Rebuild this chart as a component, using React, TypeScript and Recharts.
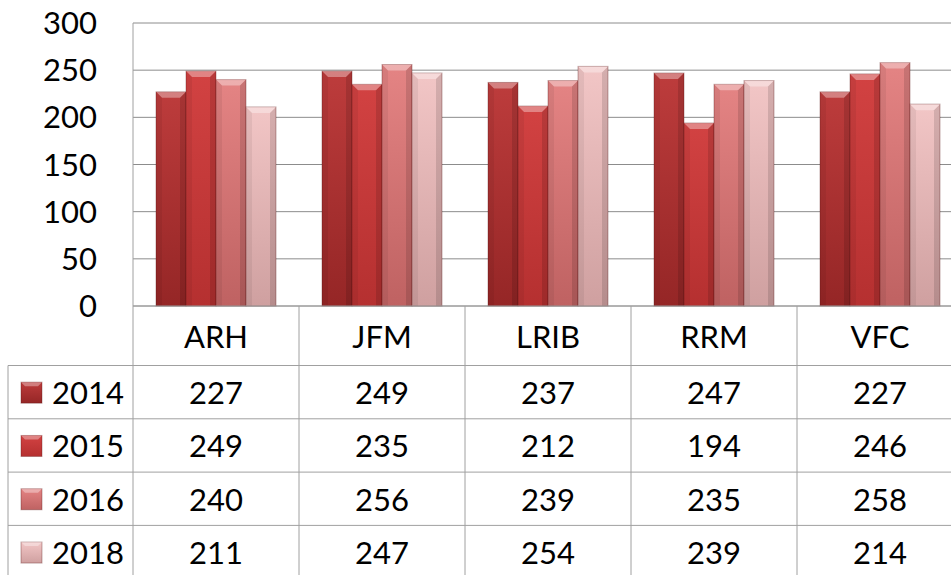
import { BarChart, Bar, XAxis, YAxis, CartesianGrid } from "recharts";

const categories = ["ARH", "JFM", "LRIB", "RRM", "VFC"];
const years = ["2014", "2015", "2016", "2018"];
const values2014 = [227, 249, 237, 247, 227];
const values2015 = [249, 235, 212, 194, 246];
const values2016 = [240, 256, 239, 235, 258];
const values2018 = [211, 247, 254, 239, 214];
const yTicks = [0, 50, 100, 150, 200, 250, 300];

const seriesValues = [values2014, values2015, values2016, values2018];
const data = categories.map((name, i) => ({
  name,
  y2014: values2014[i],
  y2015: values2015[i],
  y2016: values2016[i],
  y2018: values2018[i],
}));

// top / bottom shade of each year
const shades = [
  ["#bd3c3c", "#952626"],
  ["#d24242", "#b53030"],
  ["#e48484", "#bf6262"],
  ["#f2c6c6", "#cfa0a0"],
];

const FONT = "Lato, 'Open Sans', sans-serif";
const CHART_W = 963;
const CHART_H = 575;
const Y_AXIS_W = 133;
const PLOT_TOP = 23;
const BAND = (CHART_W - Y_AXIS_W) / categories.length;
const HEADER_H = 59.5;
const ROW_H = 53.3;
const TABLE_LEFT = 8;
const LINE = "#a0a0a0";

const BevelBar = (props: any) => {
  const { x, y, width, height, fill } = props;
  if (!height || height <= 0) return null;
  const b = 6;
  return (
    <g>
      <rect x={x} y={y} width={width} height={height} fill={fill} stroke="rgba(90,20,20,0.35)" strokeWidth={1} />
      <polygon
        points={`${x},${y} ${x + width},${y} ${x + width - b},${y + b} ${x + b},${y + b}`}
        fill="rgba(255,255,255,0.35)"
      />
      <polygon points={`${x},${y} ${x + b},${y + b} ${x + b},${y + height} ${x},${y + height}`} fill="rgba(0,0,0,0.06)" />
      <polygon
        points={`${x + width},${y} ${x + width - b},${y + b} ${x + width - b},${y + height} ${x + width},${y + height}`}
        fill="rgba(0,0,0,0.12)"
      />
    </g>
  );
};

const TableTick = (props: any) => {
  const { x, y, payload, index } = props;
  const i = payload?.index ?? index;
  const rowY = (r: number) => y + HEADER_H + ROW_H * r;
  return (
    <g>
      <text x={x} y={y + HEADER_H / 2} textAnchor="middle" dominantBaseline="central" fontSize={31} fontFamily={FONT} fill="#000">
        {payload.value}
      </text>
      {seriesValues.map((vals, r) => (
        <text key={r} x={x} y={rowY(r) + ROW_H / 2} textAnchor="middle" dominantBaseline="central" fontSize={31} fontFamily={FONT} fill="#000">
          {vals[i]}
        </text>
      ))}
      <line x1={x + BAND / 2} y1={y} x2={x + BAND / 2} y2={CHART_H} stroke={LINE} />
      {i === 0 && (
        <g>
          <line x1={x - BAND / 2} y1={y} x2={x - BAND / 2} y2={CHART_H} stroke={LINE} />
          <line x1={TABLE_LEFT} y1={rowY(0)} x2={TABLE_LEFT} y2={CHART_H} stroke={LINE} />
          {years.map((yr, r) => (
            <g key={yr}>
              <line x1={TABLE_LEFT} y1={rowY(r)} x2={CHART_W} y2={rowY(r)} stroke={LINE} />
              <rect x={21} y={rowY(r) + ROW_H / 2 - 10} width={21} height={21} fill={`url(#g${yr})`} stroke="rgba(90,20,20,0.35)" />
              <polygon
                points={`21,${rowY(r) + ROW_H / 2 - 10} 42,${rowY(r) + ROW_H / 2 - 10} 38,${rowY(r) + ROW_H / 2 - 6} 25,${rowY(r) + ROW_H / 2 - 6}`}
                fill="rgba(255,255,255,0.35)"
              />
              <text x={52} y={rowY(r) + ROW_H / 2} dominantBaseline="central" fontSize={31} fontFamily={FONT} fill="#000">
                {yr}
              </text>
            </g>
          ))}
        </g>
      )}
    </g>
  );
};

export default function App() {
  return (
    <div style={{ position: "absolute", left: 0, top: 0, width: 951, height: 575, overflow: "hidden", background: "#fff" }}>
      <BarChart
        width={CHART_W}
        height={CHART_H}
        data={data}
        margin={{ top: PLOT_TOP, right: 0, bottom: 0, left: 0 }}
        barGap={0}
        barCategoryGap={23}
      >
        <defs>
          {years.map((yr, k) => (
            <linearGradient key={yr} id={`g${yr}`} x1="0" y1="0" x2="0" y2="1">
              <stop offset="0%" stopColor={shades[k][0]} />
              <stop offset="100%" stopColor={shades[k][1]} />
            </linearGradient>
          ))}
        </defs>
        <CartesianGrid vertical={false} stroke="#8c8c8c" />
        <XAxis
          dataKey="name"
          height={CHART_H - 306}
          tickLine={false}
          tickSize={0}
          tickMargin={0}
          axisLine={{ stroke: LINE }}
          interval={0}
          tick={<TableTick />}
        />
        <YAxis
          width={Y_AXIS_W}
          domain={[0, 300]}
          ticks={yTicks}
          tickLine={false}
          tickSize={0}
          tickMargin={36}
          axisLine={{ stroke: LINE }}
          tick={{ fontSize: 31, fontFamily: FONT, fill: "#000" }}
        />
        {years.map((yr) => (
          <Bar key={yr} dataKey={`y${yr}`} fill={`url(#g${yr})`} shape={<BevelBar />} isAnimationActive={false} />
        ))}
      </BarChart>
    </div>
  );
}
